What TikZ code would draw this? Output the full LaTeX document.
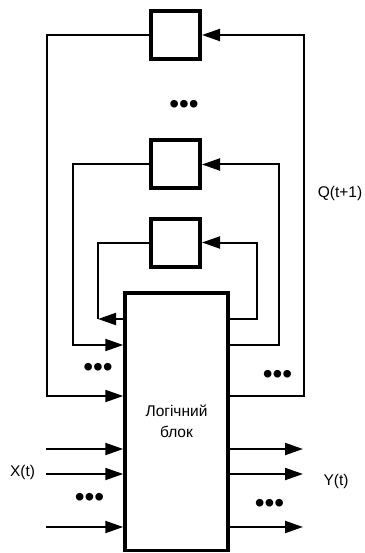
\documentclass[tikz,border=0pt]{standalone}
\usepackage{fontspec}
\setmainfont{Liberation Sans}
\usetikzlibrary{arrows.meta}
\begin{document}
\begin{tikzpicture}[x=1pt,y=-1pt,
  conn/.style={line width=2pt},
  arr/.style={conn,-{Triangle[length=18pt,width=12pt]}},
  reg/.style={draw,line width=4pt,minimum width=49pt,minimum height=48pt,inner sep=0pt},
  logic/.style={draw,line width=3.5pt,minimum width=103pt,minimum height=257.5pt,inner sep=0pt,align=center,font=\fontsize{15.5}{21}\selectfont},
  lbl/.style={inner sep=0pt,font=\fontsize{15.5}{18}\selectfont},
  dots/.style={inner sep=0pt,font=\fontsize{28}{28}\selectfont}]
\useasboundingbox (0,0) rectangle (364,553);
% registers
\node[reg] (r1) at (175.5,35) {};
\node[reg] (r2) at (175.5,164.5) {};
\node[reg] (r3) at (175.5,242.5) {};
% logic block
\node[logic] (blk) at (176.5,421.5) {Логічний\\блок};
% coordinates
\coordinate (aL) at (47,396);
\coordinate (aR) at (304,396);
\coordinate (bL) at (73,345);
\coordinate (bR) at (279,345);
\coordinate (cL) at (98,319);
\coordinate (cR) at (257,319);
% outer loop
\draw[arr] (r1.west) -| (aL) -- (blk.west |- aL);
\draw[arr] (blk.east |- aR) -- (aR) |- (r1.east);
% middle loop
\draw[arr] (r2.west) -| (bL) -- (blk.west |- bL);
\draw[arr] (blk.east |- bR) -- (bR) |- (r2.east);
% inner loop
\draw[conn] (r3.west) -| (cL);
\draw[arr] (blk.west |- cL) -- (cL);
\draw[arr] (blk.east |- cR) -- (cR) |- (r3.east);
% inputs
\coordinate (x1) at (46,449);
\coordinate (x2) at (46,474);
\coordinate (x3) at (46,527);
\coordinate (y1) at (303,449);
\coordinate (y2) at (303,474);
\coordinate (y3) at (303,527);
\draw[arr] (x1) -- (blk.west |- x1);
\draw[arr] (x2) -- (blk.west |- x2);
\draw[arr] (x3) -- (blk.west |- x3);
\draw[arr] (blk.east |- y1) -- (y1);
\draw[arr] (blk.east |- y2) -- (y2);
\draw[arr] (blk.east |- y3) -- (y3);
% labels
\node[lbl] (q) at (340,193) {Q(t+1)};
\node[lbl] (xl) at (22.5,472) {X(t)};
\node[lbl] (yl) at (336,481) {Y(t)};
% dots
\node[dots] (d1) at (184,107) {•••};
\node[dots] (d2) at (98,370) {•••};
\node[dots] (d3) at (277.5,377) {•••};
\node[dots] (d4) at (89.5,500) {•••};
\node[dots] (d5) at (269.5,506) {•••};
\end{tikzpicture}
\end{document}
